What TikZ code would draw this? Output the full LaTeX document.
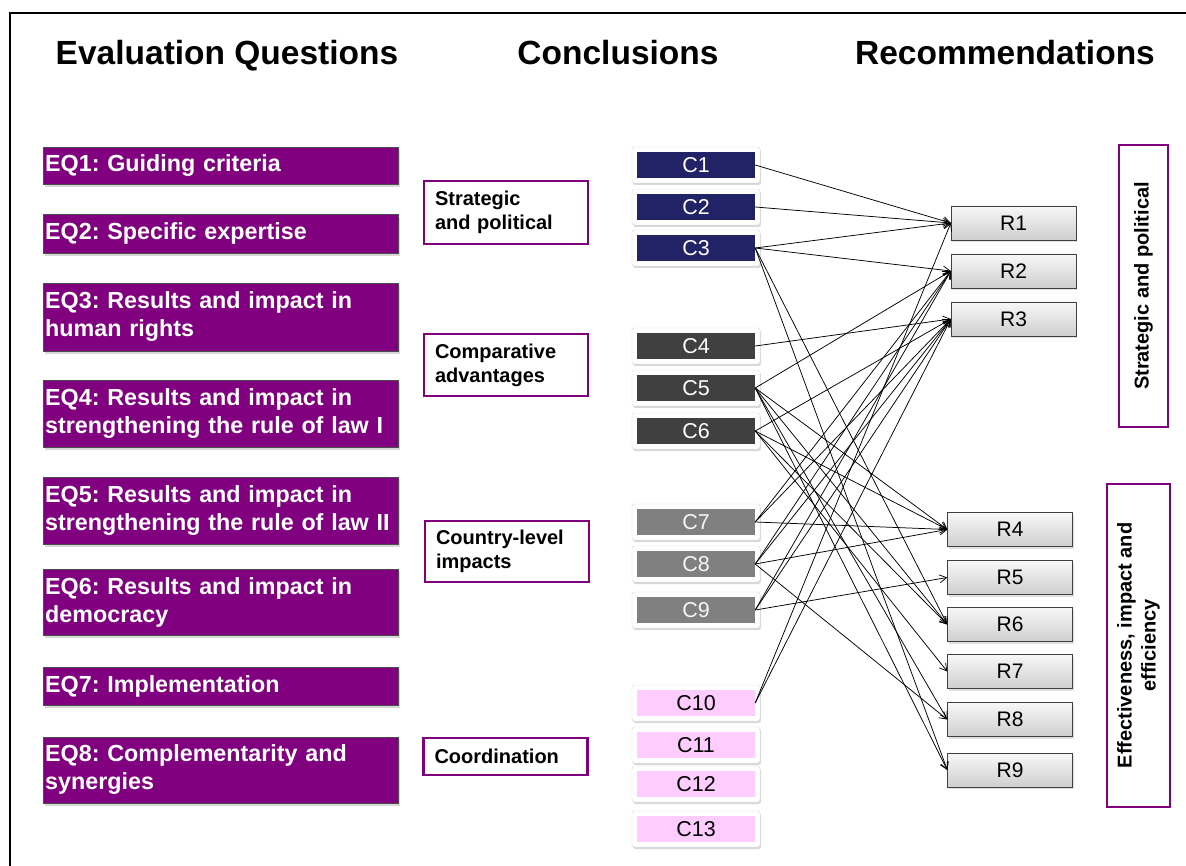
\documentclass[tikz,border=0pt]{standalone}
\usepackage{fontspec}
\setmainfont{Liberation Sans}
\usetikzlibrary{shadows,arrows.meta}
\frenchspacing
\definecolor{eqpurple}{HTML}{800080}
\definecolor{cnavy}{HTML}{222266}
\definecolor{cdark}{HTML}{404040}
\definecolor{cgray}{HTML}{808080}
\definecolor{cpink}{HTML}{FFCCFF}
\tikzset{
  hdr/.style={font=\fontsize{33.5}{38}\selectfont\bfseries, anchor=base},
  eqbox/.style={draw=black!70, fill=eqpurple, text=white,
    font=\fontsize{23.3}{28}\selectfont\bfseries\frenchspacing, align=left, anchor=west,
    minimum width=355pt, text width=351pt, inner xsep=2pt, inner ysep=0pt,
    drop shadow={shadow xshift=1.5pt, shadow yshift=-3pt, opacity=0.3}},
  grpbox/.style={draw=eqpurple, line width=2.6pt, fill=white,
    font=\fontsize{20}{24}\selectfont\bfseries, align=left, text width=142pt,
    minimum width=164pt, inner xsep=11pt, inner ysep=0pt},
  cout/.style={draw=black!15, fill=white, rounded corners=2.5pt,
    minimum width=128pt, minimum height=36pt, inner sep=0pt,
    drop shadow={shadow xshift=1pt, shadow yshift=-2pt, opacity=0.3}},
  cin/.style={minimum width=118pt, minimum height=26pt, inner sep=0pt,
    font=\fontsize{21.5}{24}\selectfont},
  rbox/.style={draw=black!75, top color=gray!6, bottom color=gray!38,
    minimum width=125pt, minimum height=34pt, inner sep=0pt,
    font=\fontsize{21}{24}\selectfont,
    drop shadow={shadow xshift=1pt, shadow yshift=-2pt, opacity=0.25}},
  vbox/.style={draw=eqpurple, line width=2.6pt, rotate=90, align=center,
    font=\fontsize{20}{24}\selectfont\bfseries, inner sep=0pt},
  conn/.style={draw=black, line width=0.75pt, -{Straight Barb[length=7pt,width=8pt]}},
}
\begin{document}
\begin{tikzpicture}[x=1pt,y=-1pt]
\useasboundingbox (0,0) rectangle (1186,866);
\fill[white] (0,0) rectangle (1186,866);
\draw[line width=1.6pt] (10,866) -- (10,13) -- (1186,13);

% headers
\node[hdr] (hEQ) at (227,65) {Evaluation Questions};
\node[hdr] (hC) at (618,65) {Conclusions};
\node[hdr] (hR) at (1005,65) {Recommendations};

% evaluation questions
\node[eqbox, minimum height=37pt] (EQ1) at (43,165.5) {EQ1: Guiding criteria};
\node[eqbox, minimum height=39pt] (EQ2) at (43,233.5) {EQ2: Specific expertise};
\node[eqbox, minimum height=68pt] (EQ3) at (43,317) {EQ3: Results and impact in\\human rights};
\node[eqbox, minimum height=67pt] (EQ4) at (43,413.5) {EQ4: Results and impact in\\strengthening the rule of law I};
\node[eqbox, minimum height=67pt] (EQ5) at (43,510.5) {EQ5: Results and impact in\\strengthening the rule of law II};
\node[eqbox, minimum height=66pt] (EQ6) at (43,602) {EQ6: Results and impact in\\democracy};
\node[eqbox, minimum height=38pt] (EQ7) at (43,686) {EQ7: Implementation};
\node[eqbox, minimum height=66pt] (EQ8) at (43,770) {EQ8: Complementarity and\\synergies};

% group boxes
\node[grpbox, minimum height=63pt] (gSP) at (506,212.5) {Strategic\\and political};
\node[grpbox, minimum height=62pt] (gCA) at (506,365) {Comparative\\advantages};
\node[grpbox, minimum height=61pt] (gCL) at (507,551.5) {Country-level\\impacts};
\node[grpbox, minimum height=37pt] (gCO) at (505.5,756.5) {Coordination};

% conclusions
\foreach \n/\y/\c/\t in {1/165/cnavy/white, 2/207/cnavy/white, 3/248/cnavy/white,
  4/346/cdark/white, 5/388/cdark/white, 6/431/cdark/white,
  7/522/cgray/white!92!gray, 8/564/cgray/white!92!gray, 9/610/cgray/white!92!gray,
  10/703/cpink/black, 11/745/cpink/black, 12/784/cpink/black, 13/829/cpink/black}{
  \node[cout] (Co\n) at (696,\y) {};
  \node[cin, fill=\c, text=\t] (C\n) at (696,\y) {C\n};
}

% recommendations
\foreach \n/\x/\y in {1/1013.5/223, 2/1013.5/271, 3/1013.5/319,
  4/1010/529.5, 5/1010/577.5, 6/1010/624.5, 7/1010/671.5, 8/1010/719.5, 9/1010/770}{
  \node[rbox] (R\n) at (\x,\y) {R\n};
}

% side boxes
\node[vbox, minimum width=282pt, minimum height=49pt] (vSP) at (1143.5,286) {Strategic and political};
\node[vbox, minimum width=323pt, minimum height=63pt] (vEI) at (1138.5,645.5) {Effectiveness, impact and\\efficiency};

% connectors
\foreach \a/\b in {1/1, 2/1, 3/1, 3/2, 3/6, 3/9,
  4/3,
  5/2, 5/4, 5/6, 5/8, 5/9,
  6/3, 6/4, 6/6, 6/7,
  7/2, 7/3, 7/4,
  8/2, 8/3, 8/4, 8/8,
  9/2, 9/3, 9/5,
  10/1, 10/3}{
  \draw[conn] (C\a.east) -- (R\b.west);
}
\end{tikzpicture}
\end{document}
